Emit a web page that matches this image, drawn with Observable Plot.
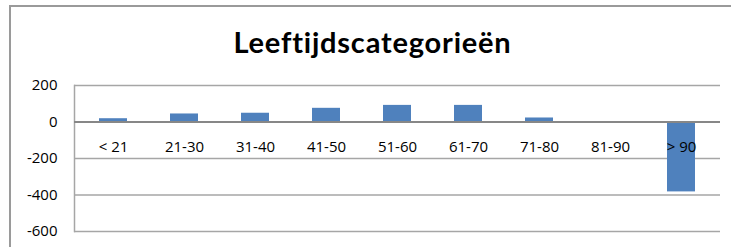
<!DOCTYPE html>
<html>
<head>
<meta charset="utf-8">
<script src="https://cdn.jsdelivr.net/npm/d3@7"></script>
<script src="https://cdn.jsdelivr.net/npm/@observablehq/plot@0.6"></script>
<style>
  html, body { margin: 0; padding: 0; background: #fff; }
  #wrap { position: relative; width: 731px; height: 247px; overflow: hidden; font-family: Lato, "Open Sans", sans-serif; }
  #frame { position: absolute; left: 9px; top: 5px; right: -5px; bottom: -5px; border-left: 2px solid #9a9a9a; border-top: 2px solid #9a9a9a; pointer-events: none; }
  #title { height: 70px; box-sizing: border-box; padding-top: 25px; padding-left: 14px; text-align: center; font-size: 29px; letter-spacing: 0.8px; font-weight: bold; line-height: 34px; color: #000; }
  #chart svg { display: block; }
</style>
</head>
<body>
<div id="wrap">
  <div id="frame"></div>
  <div id="title">Leeftijdscategorieën</div>
  <div id="chart"></div>
</div>
<script>
const categories = ["< 21", "21-30", "31-40", "41-50", "51-60", "61-70", "71-80", "81-90", "> 90"];
const values = [18, 44, 48, 75, 91, 91, 22, 0, -383];
const yTicks = [-600, -400, -200, 0, 200];

const data = categories.map((c, i) => ({category: c, value: values[i]}));

const chart = Plot.plot({
  width: 731,
  height: 177,
  marginTop: 15,
  marginBottom: 16,
  marginLeft: 74,
  marginRight: 11,
  style: {fontFamily: "'Open Sans', sans-serif", fontSize: "15px", color: "#000", background: "transparent"},
  x: {domain: categories, paddingInner: 0.6, paddingOuter: 0.3, axis: null},
  y: {domain: [-600, 200], ticks: yTicks, tickSize: 0, tickPadding: 17, label: null},
  marks: [
    Plot.ruleY(yTicks.filter(d => d !== 0), {stroke: "#a6a6a6", strokeWidth: 1.5}),
    Plot.frame({anchor: "left", stroke: "#a6a6a6", strokeWidth: 1.5}),
    Plot.barY(data, {x: "category", y: "value", fill: "#4f81bd"}),
    Plot.ruleY([0], {stroke: "#878787", strokeWidth: 2}),
    Plot.text(data, {x: "category", y: () => 0, text: "category", dy: 25, fill: "#000", fontSize: 15}),
    Plot.axisY({ticks: yTicks, tickSize: 0, tickPadding: 17, fontSize: 15, label: null, tickFormat: d => String(d)})
  ]
});
document.getElementById("chart").appendChild(chart);
</script>
</body>
</html>
